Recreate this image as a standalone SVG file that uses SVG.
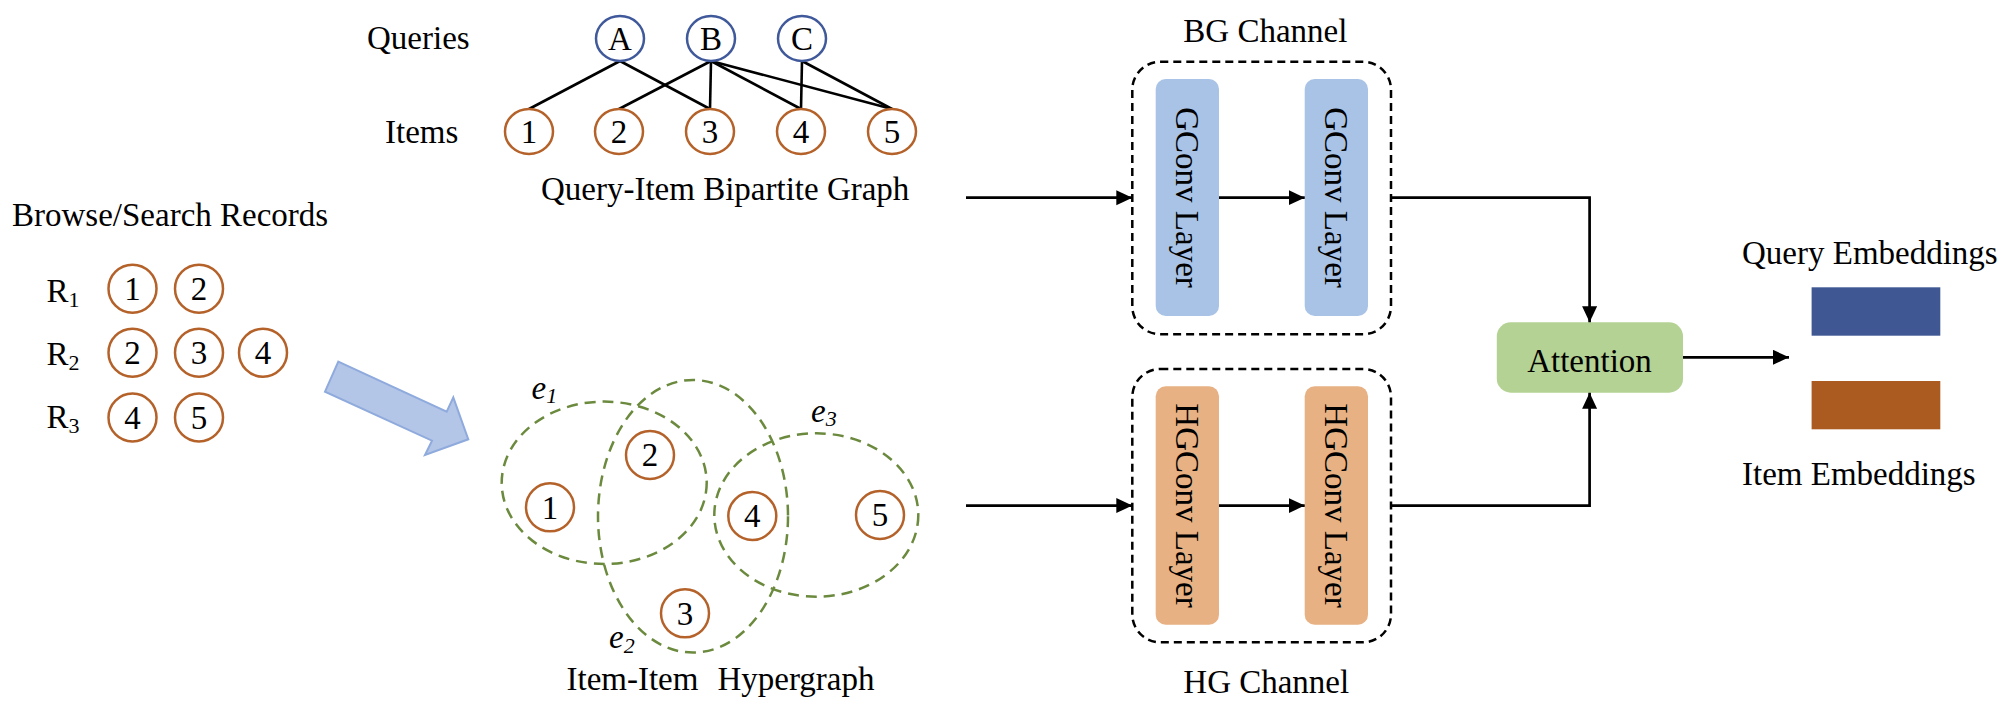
<svg xmlns="http://www.w3.org/2000/svg" width="2008" height="714" viewBox="0 0 2008 714">
<style>
  text { font-family: "Liberation Serif", "Times New Roman", serif; fill: #000; }
  .lbl { font-size: 33px; }
  .num { font-size: 33px; text-anchor: middle; }
  .sub { font-size: 22px; }
  .it { font-style: italic; }
  .qc { fill: #fff; stroke: #40599a; stroke-width: 2.5; }
  .ic { fill: #fff; stroke: #b4622a; stroke-width: 2.5; }
  .edge { stroke: #000; stroke-width: 2.6; fill: none; }
  .hyper { fill: none; stroke: #6b8a3e; stroke-width: 2.5; stroke-dasharray: 11 7; }
  .chan { fill: none; stroke: #000; stroke-width: 2.5; stroke-dasharray: 8 5; }
  .gconv { fill: #a8c3e6; }
  .hgconv { fill: #e7b183; }
  .conn { stroke: #000; stroke-width: 2.7; fill: none; }
  .vt { font-size: 33px; text-anchor: middle; }
</style>
<defs>
  <marker id="ah" markerUnits="userSpaceOnUse" markerWidth="17" markerHeight="16" refX="16" refY="7.5" orient="auto">
    <path d="M0,0 L16,7.5 L0,15 z" fill="#000"/>
  </marker>
</defs>

<!-- Browse/Search Records -->
<g id="records">
  <text class="lbl" x="12" y="226">Browse/Search Records</text>
  <text class="lbl" x="46.5" y="301.7">R<tspan class="sub" dy="5">1</tspan></text>
  <text class="lbl" x="46.5" y="365">R<tspan class="sub" dy="5">2</tspan></text>
  <text class="lbl" x="46.5" y="428.3">R<tspan class="sub" dy="5">3</tspan></text>
  <circle class="ic" cx="132.5" cy="288.7" r="24"/><text class="num" x="132.5" y="299.9">1</text>
  <circle class="ic" cx="199" cy="288.7" r="24"/><text class="num" x="199" y="299.9">2</text>
  <circle class="ic" cx="132.5" cy="352.7" r="24"/><text class="num" x="132.5" y="363.9">2</text>
  <circle class="ic" cx="199" cy="352.7" r="24"/><text class="num" x="199" y="363.9">3</text>
  <circle class="ic" cx="263" cy="352.7" r="24"/><text class="num" x="263" y="363.9">4</text>
  <circle class="ic" cx="132.5" cy="417.5" r="24"/><text class="num" x="132.5" y="428.7">4</text>
  <circle class="ic" cx="199" cy="417.5" r="24"/><text class="num" x="199" y="428.7">5</text>
</g>

<!-- Big block arrow -->
<g id="block-arrow">
  <polygon points="338.3,361.7 446.7,411.7 453.3,397.3 468.3,439.3 425,455 432,440.7 325,391.7" fill="#b4c6e7" stroke="#8faadc" stroke-width="2" stroke-linejoin="miter"/>
</g>

<!-- Query-Item Bipartite Graph -->
<g id="bipartite">
  <text class="lbl" x="367" y="49.3">Queries</text>
  <text class="lbl" x="385" y="143.3">Items</text>
  <g id="bip-edges">
    <line class="edge" x1="620" y1="61" x2="529" y2="109"/>
    <line class="edge" x1="620" y1="61" x2="710" y2="109"/>
    <line class="edge" x1="711" y1="61" x2="619" y2="109"/>
    <line class="edge" x1="711" y1="61" x2="710" y2="109"/>
    <line class="edge" x1="711" y1="61" x2="801" y2="109"/>
    <line class="edge" x1="711" y1="61" x2="892" y2="109"/>
    <line class="edge" x1="802" y1="61" x2="801" y2="109"/>
    <line class="edge" x1="802" y1="61" x2="892" y2="109"/>
  </g>
  <g id="query-A"><ellipse class="qc" cx="620" cy="38.5" rx="24" ry="22.5"/><text class="num" x="620" y="49.5">A</text></g>
  <g id="query-B"><ellipse class="qc" cx="711" cy="38.5" rx="24" ry="22.5"/><text class="num" x="711" y="49.5">B</text></g>
  <g id="query-C"><ellipse class="qc" cx="802" cy="38.5" rx="24" ry="22.5"/><text class="num" x="802" y="49.5">C</text></g>
  <g id="bitem-1"><ellipse class="ic" cx="529" cy="131.5" rx="24" ry="22.5"/><text class="num" x="529" y="142.7">1</text></g>
  <g id="bitem-2"><ellipse class="ic" cx="619" cy="131.5" rx="24" ry="22.5"/><text class="num" x="619" y="142.7">2</text></g>
  <g id="bitem-3"><ellipse class="ic" cx="710" cy="131.5" rx="24" ry="22.5"/><text class="num" x="710" y="142.7">3</text></g>
  <g id="bitem-4"><ellipse class="ic" cx="801" cy="131.5" rx="24" ry="22.5"/><text class="num" x="801" y="142.7">4</text></g>
  <g id="bitem-5"><ellipse class="ic" cx="892" cy="131.5" rx="24" ry="22.5"/><text class="num" x="892" y="142.7">5</text></g>
  <text class="lbl" x="541" y="200">Query-Item Bipartite Graph</text>
</g>

<!-- Item-Item Hypergraph -->
<g id="hypergraph">
  <ellipse class="hyper" cx="604.2" cy="482.8" rx="102.5" ry="81.2"/>
  <ellipse class="hyper" cx="693" cy="516.3" rx="95" ry="136.3"/>
  <ellipse class="hyper" cx="816.3" cy="515" rx="102" ry="81.7"/>
  <text class="lbl it" x="531.5" y="399.3">e<tspan class="sub" dy="4">1</tspan></text>
  <text class="lbl it" x="609" y="648.3">e<tspan class="sub" dy="5">2</tspan></text>
  <text class="lbl it" x="811" y="421.7">e<tspan class="sub" dy="4">3</tspan></text>
  <g id="hitem-1"><circle class="ic" cx="550" cy="507.3" r="24"/><text class="num" x="550" y="518.5">1</text></g>
  <g id="hitem-2"><circle class="ic" cx="650" cy="455" r="24"/><text class="num" x="650" y="466.2">2</text></g>
  <g id="hitem-3"><circle class="ic" cx="685" cy="613.3" r="24"/><text class="num" x="685" y="624.5">3</text></g>
  <g id="hitem-4"><circle class="ic" cx="752.3" cy="516" r="24"/><text class="num" x="752.3" y="527.2">4</text></g>
  <g id="hitem-5"><circle class="ic" cx="880" cy="515" r="24"/><text class="num" x="880" y="526.2">5</text></g>
  <text class="lbl" x="566.5" y="690">Item-Item</text>
  <text class="lbl" x="717.5" y="690">Hypergraph</text>
</g>

<!-- BG Channel -->
<g id="bg-channel">
  <text class="lbl" x="1183.3" y="41.7">BG Channel</text>
  <rect class="chan" x="1132.3" y="61.7" width="258.7" height="272.6" rx="28"/>
  <g id="gconv-1">
    <rect class="gconv" x="1155.7" y="79" width="63.3" height="237" rx="10"/>
    <text class="vt" transform="translate(1187.3,197.5) rotate(90)" x="0" y="11">GConv Layer</text>
  </g>
  <g id="gconv-2">
    <rect class="gconv" x="1304.7" y="79" width="63.3" height="237" rx="10"/>
    <text class="vt" transform="translate(1336.3,197.5) rotate(90)" x="0" y="11">GConv Layer</text>
  </g>
</g>

<!-- HG Channel -->
<g id="hg-channel">
  <rect class="chan" x="1132.3" y="369" width="258.7" height="273.3" rx="28"/>
  <g id="hgconv-1">
    <rect class="hgconv" x="1155.7" y="386.3" width="63.3" height="238.4" rx="10"/>
    <text class="vt" transform="translate(1187.3,505.5) rotate(90)" x="0" y="11">HGConv Layer</text>
  </g>
  <g id="hgconv-2">
    <rect class="hgconv" x="1304.7" y="386.3" width="63.3" height="238.4" rx="10"/>
    <text class="vt" transform="translate(1336.3,505.5) rotate(90)" x="0" y="11">HGConv Layer</text>
  </g>
  <text class="lbl" x="1183.3" y="693.3">HG Channel</text>
</g>

<!-- Attention -->
<g id="attention">
  <rect x="1496.8" y="322.3" width="186.2" height="70.4" rx="14" fill="#b4d293"/>
  <text class="num" x="1589.5" y="371.7">Attention</text>
</g>

<!-- Embeddings -->
<g id="query-embeddings">
  <text class="lbl" x="1742" y="264">Query Embeddings</text>
  <rect x="1811.6" y="287.3" width="128.7" height="48.4" fill="#3f5893"/>
</g>
<g id="item-embeddings">
  <rect x="1811.6" y="381" width="128.7" height="48.3" fill="#ab5a20"/>
  <text class="lbl" x="1742" y="485">Item Embeddings</text>
</g>

<!-- Connectors -->
<g id="connectors">
  <line class="conn" x1="966" y1="197.7" x2="1132.3" y2="197.7" marker-end="url(#ah)"/>
  <line class="conn" x1="1219" y1="197.7" x2="1304.7" y2="197.7" marker-end="url(#ah)"/>
  <polyline class="conn" points="1391,197.7 1589.6,197.7 1589.6,322.3" marker-end="url(#ah)"/>
  <line class="conn" x1="966" y1="505.6" x2="1132.3" y2="505.6" marker-end="url(#ah)"/>
  <line class="conn" x1="1219" y1="505.6" x2="1304.7" y2="505.6" marker-end="url(#ah)"/>
  <polyline class="conn" points="1391,505.6 1589.6,505.6 1589.6,392.7" marker-end="url(#ah)"/>
  <line class="conn" x1="1683" y1="357.3" x2="1789" y2="357.3" marker-end="url(#ah)"/>
</g>
</svg>
